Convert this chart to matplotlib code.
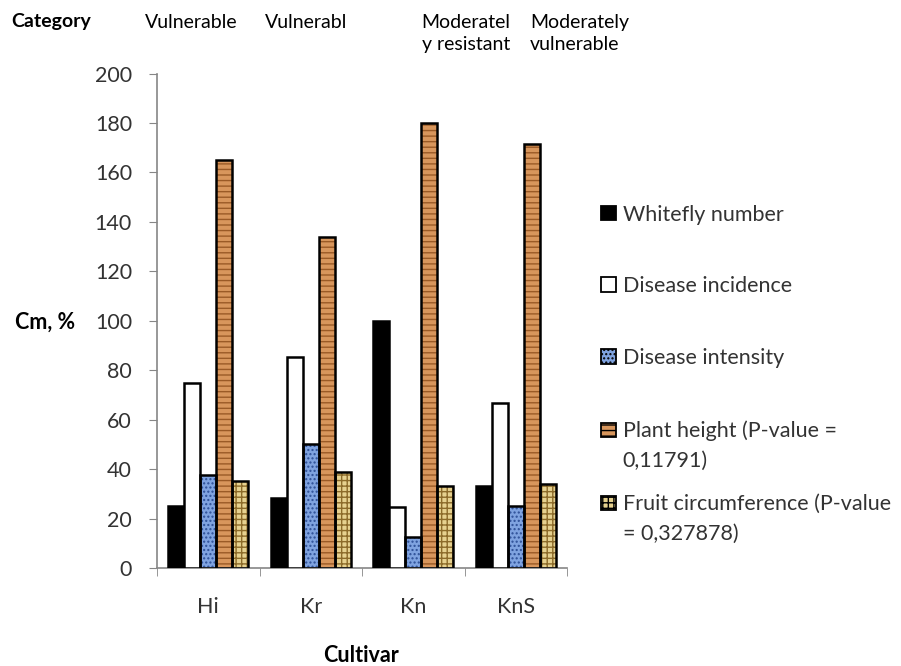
import numpy as np
import matplotlib
matplotlib.use("Agg")
from matplotlib import pyplot as plt
from matplotlib.patches import Patch, Rectangle
from matplotlib.legend_handler import HandlerPatch

plt.rcParams['font.family'] = ['Lato', 'DejaVu Sans']

cultivars = ['Hi', 'Kr', 'Kn', 'KnS']
category_title = 'Category'
categories = ['Vulnerable', 'Vulnerabl', 'Moderatel\ny resistant', 'Moderately\nvulnerable']

whitefly = [25, 28.3, 100, 33.3]
incidence = [75, 85.4, 24.5, 66.7]
intensity = [37.5, 50, 12.5, 25]
plant_height = [165, 133.7, 179.8, 171.6]
fruit_circ = [35, 39, 33, 34]

series = [
    ('Whitefly number', whitefly),
    ('Disease incidence', incidence),
    ('Disease intensity', intensity),
    ('Plant height (P-value =\n0,11791)', plant_height),
    ('Fruit circumference (P-value\n= 0,327878)', fruit_circ),
]
# face, hatch, hatch colour
styles = [
    ('black', None, 'black'),
    ('white', None, 'black'),
    ('#7fa3e0', '....', '#2d4f96'),
    ('#d8965c', '---', '#9a5a26'),
    ('#e6d18f', '+++', '#8c6b2a'),
]

FS = 15.5


def top_line_patch(legend, orig_handle, xdescent, ydescent, width, height, fontsize):
    # excel puts the box next to the first line of a wrapped label
    return Rectangle((-xdescent, -ydescent + 0.75 * fontsize), width, height)


fig = plt.figure(figsize=(9.01, 6.66), dpi=100)
ax = fig.add_axes([0.1743, 0.1471, 0.4552, 0.7425])

x = np.arange(len(cultivars))
w = 0.156
handles = []
for i, ((name, vals), (fc, hatch, hc)) in enumerate(zip(series, styles)):
    pos = x + (i - 2) * w
    if hatch:
        ax.bar(pos, vals, w, color=fc, hatch=hatch, edgecolor=hc, linewidth=0, zorder=2)
        ax.bar(pos, vals, w, fill=False, edgecolor='black', linewidth=1.8, zorder=3)
        handles.append(Patch(facecolor=fc, hatch=hatch, edgecolor='black', linewidth=1.3, label=name))
    else:
        ax.bar(pos, vals, w, color=fc, edgecolor='black', linewidth=1.8, zorder=3)
        handles.append(Patch(facecolor=fc, edgecolor='black', linewidth=1.3, label=name))

ax.set_xlim(-0.5, 3.5)
ax.set_ylim(0, 200)
ax.set_yticks(np.arange(0, 201, 20))
ax.set_xticks(x)
ax.set_xticklabels(cultivars)
ax.set_xticks(np.arange(-0.5, 3.6, 1), minor=True)
ax.tick_params(axis='x', which='major', length=0, pad=21, labelsize=FS, colors='#333333')
ax.tick_params(axis='x', which='minor', length=6, color='#868686')
ax.tick_params(axis='y', length=6, color='#868686', labelsize=FS, labelcolor='#333333', pad=12)
for s in ['top', 'right']:
    ax.spines[s].set_visible(False)
for s in ['left', 'bottom']:
    ax.spines[s].set_color('#868686')
    ax.spines[s].set_linewidth(1.2)

fig.text(0.0166, 0.5165, 'Cm, %', fontsize=FS, fontweight='bold', ha='left', va='center')
fig.text(0.4007, 0.0165, 'Cultivar', fontsize=FS, fontweight='bold', ha='center', va='center')

fig.text(0.013, 0.967, category_title, fontsize=14, fontweight='bold', ha='left', va='center')
cat_x = [0.161, 0.294, 0.468, 0.588]
for cx, lab in zip(cat_x, categories):
    fig.text(cx, 0.979, lab, fontsize=14, ha='left', va='top', linespacing=1.37)

hmap = {h: HandlerPatch(patch_func=top_line_patch) for h in handles if '\n' in h.get_label()}
leg_kw = dict(loc='upper left', frameon=False, fontsize=FS, labelspacing=2.41,
              handlelength=0.68, handleheight=0.68, handletextpad=0.3,
              labelcolor='#333333', handler_map=hmap)
leg1 = fig.legend(handles=handles[:4], bbox_to_anchor=(0.646, 0.722), **leg_kw)
leg2 = fig.legend(handles=handles[4:], bbox_to_anchor=(0.646, 0.288), **leg_kw)
for leg in (leg1, leg2):
    for t in leg.get_texts():
        t.set_linespacing(1.65)

fig.savefig('out.png', dpi=100)
